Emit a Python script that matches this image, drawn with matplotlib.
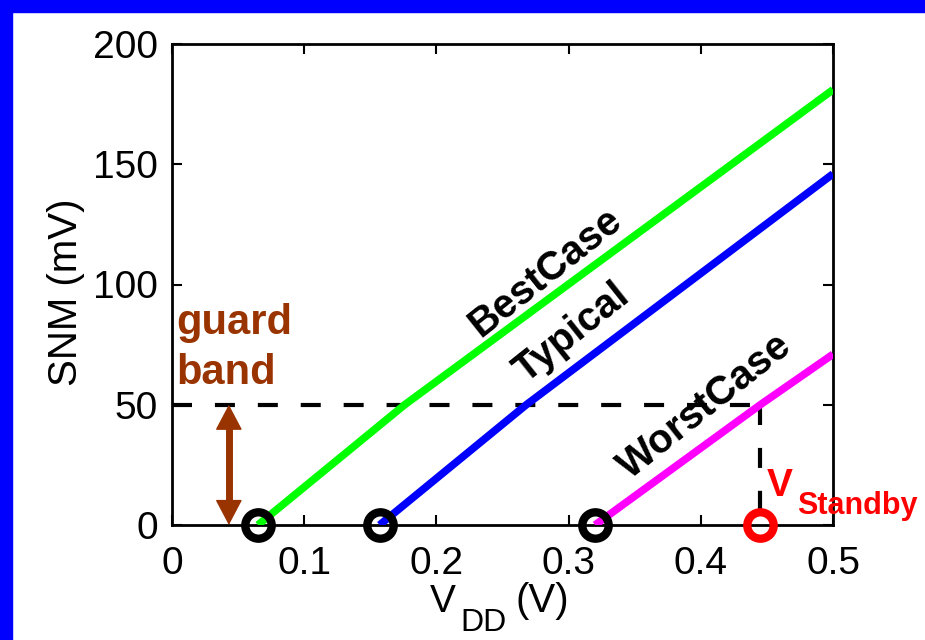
import matplotlib
matplotlib.use("Agg")
import matplotlib.pyplot as plt
from matplotlib.patches import Rectangle

plt.rcParams['font.family'] = ['Liberation Sans', 'DejaVu Sans']

# Data
vdd_best = [0.065, 0.176, 0.5]
snm_best = [0, 50, 181]
vdd_typ = [0.157, 0.268, 0.5]
snm_typ = [0, 50, 146]
vdd_worst = [0.32, 0.445, 0.5]
snm_worst = [0, 50, 71]
zero_pts = [0.065, 0.157, 0.32]
v_standby = 0.445
snm_target = 50
guard_x = 0.043

xticks = [0, 0.1, 0.2, 0.3, 0.4, 0.5]
xticklabels = ['0', '0.1', '0.2', '0.3', '0.4', '0.5']
yticks = [0, 50, 100, 150, 200]

W, H = 925, 640
fig = plt.figure(figsize=(W/100, H/100), dpi=100, facecolor='white')
# blue frame (top and left)
fig.patches.append(Rectangle((0, 0), 12/W, 1, transform=fig.transFigure, color='#0000ff', zorder=0))
fig.patches.append(Rectangle((0, 1-12/H), 1, 12/H, transform=fig.transFigure, color='#0000ff', zorder=0))

ax = fig.add_axes([172/W, 1-525/H, (833-172)/W, (525-44)/H])
ax.set_xlim(0, 0.5)
ax.set_ylim(0, 200)

lw = 5.5
ax.plot(vdd_best, snm_best, color='#00ff00', lw=lw, solid_capstyle='butt', zorder=3)
ax.plot(vdd_typ, snm_typ, color='#0000ff', lw=lw, solid_capstyle='butt', zorder=3)
ax.plot(vdd_worst, snm_worst, color='#ff00ff', lw=lw, solid_capstyle='butt', zorder=3)

# dashed guides
ax.plot([0, v_standby], [snm_target, snm_target], color='black', lw=3, dashes=(4.8, 5.5), zorder=2)
ax.plot([v_standby, v_standby], [snm_target, 0], color='black', lw=3, dashes=(4.8, 5.5), zorder=2)

# markers
ax.plot(zero_pts, [0]*len(zero_pts), 'o', ms=19, mfc='none', mec='black', mew=6, clip_on=False, zorder=4)
ax.plot([v_standby], [0], 'o', ms=19, mfc='none', mec='#ff0000', mew=6, clip_on=False, zorder=4)

# guard band arrow
brown = '#993300'
ax.plot([guard_x, guard_x], [8, snm_target - 8], color=brown, lw=5, solid_capstyle='butt', zorder=3)
ax.annotate('', xy=(guard_x, 0), xytext=(guard_x, snm_target),
            arrowprops=dict(arrowstyle='<|-|>,head_length=0.55,head_width=0.29', color=brown, lw=1,
                            mutation_scale=30, shrinkA=0, shrinkB=0))
ax.text(0.003, 84, 'guard', color=brown, fontsize=30, fontweight='bold', ha='left', va='center')
ax.text(0.003, 63, 'band', color=brown, fontsize=30, fontweight='bold', ha='left', va='center')

rot = 38.5
ax.text(0.282, 105, 'BestCase', fontsize=29, fontweight='bold', rotation=rot, ha='center', va='center',
        rotation_mode='anchor')
ax.text(0.3026, 80, 'Typical', fontsize=29, fontweight='bold', rotation=rot, ha='center', va='center',
        rotation_mode='anchor')
ax.text(0.403, 49.5, 'WorstCase', fontsize=29, fontweight='bold', rotation=rot, ha='center', va='center',
        rotation_mode='anchor')

# V_Standby label (pixel-placed)
fig.text(767/W, 1-496/H, 'V', color='#ff0000', fontsize=28, fontweight='bold', ha='left', va='baseline')
fig.text(797/W, 1-514/H, 'Standby', color='#ff0000', fontsize=22, fontweight='bold', ha='left', va='baseline')

ax.set_xticks(xticks)
ax.set_xticklabels(xticklabels)
ax.set_yticks(yticks)
ax.tick_params(direction='in', length=7, width=1.5, labelsize=28, top=True, right=True)
ax.tick_params(axis='x', pad=15)
ax.tick_params(axis='y', pad=10)
for s in ax.spines.values():
    s.set_linewidth(2)

# x label: V_DD (V)
fig.text(430/W, 1-612/H, 'V', fontsize=28, ha='left', va='baseline')
fig.text(460/W, 1-631/H, 'DD', fontsize=23, ha='left', va='baseline')
fig.text(515/W, 1-612/H, '(V)', fontsize=29, ha='left', va='baseline')
# y label
fig.text(66/W, 1-292/H, 'SNM (mV)', fontsize=29, rotation=90, ha='center', va='center')

fig.savefig('out.png', dpi=100, facecolor='white')
